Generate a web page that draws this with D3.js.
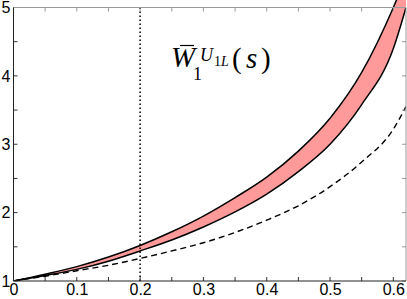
<!DOCTYPE html>
<html>
<head>
<meta charset="utf-8">
<script src="https://cdn.jsdelivr.net/npm/d3@7"></script>
<style>
  body { margin: 0; background: #fff; }
  svg { display: block; }
</style>
</head>
<body>
<div id="chart"></div>
<script>
// data
const xs = [0, 0.05, 0.1, 0.15, 0.2, 0.25, 0.3, 0.35, 0.4, 0.45, 0.5, 0.55, 0.6, 0.62];
const upperVals = [1.00, 1.10, 1.21, 1.35, 1.52, 1.72, 1.95, 2.22, 2.52, 2.90, 3.38, 4.05, 5.00, 5.45];
const lowerVals = [1.00, 1.08, 1.17, 1.29, 1.44, 1.60, 1.79, 2.01, 2.27, 2.60, 3.00, 3.58, 4.40, 5.00];
const dashedVals = [1.00, 1.07, 1.15, 1.23, 1.33, 1.44, 1.56, 1.71, 1.89, 2.10, 2.38, 2.74, 3.22, 3.55];
const markerX = 0.2;
const xTicks = [0, 0.1, 0.2, 0.3, 0.4, 0.5, 0.6];
const yTicks = [1, 2, 3, 4, 5];

const W = 407, H = 299;
const pLeft = 13.5, pRight = 406, pTop = 7.5, pBottom = 281;

const svg = d3.select("#chart").append("svg")
    .attr("width", W)
    .attr("height", H);

const x = d3.scaleLinear().domain([0, 0.62]).range([pLeft, pRight]);
const y = d3.scaleLinear().domain([1, 5]).range([pBottom, pTop]);

const band = xs.map((d, i) => ({ x: d, lo: lowerVals[i], hi: upperVals[i] }));

// pink area between the two solid curves
const area = d3.area()
    .x(d => x(d.x))
    .y0(d => y(d.lo))
    .y1(d => y(d.hi))
    .curve(d3.curveMonotoneX);

svg.append("clipPath").attr("id", "clip")
    .append("rect").attr("x", pLeft).attr("y", 0).attr("width", pRight - pLeft).attr("height", pBottom);

const plot = svg.append("g").attr("clip-path", "url(#clip)");

plot.append("path")
    .datum(band)
    .attr("fill", "#ff9a9a")
    .attr("d", area);

const line = d3.line()
    .x(d => x(d[0]))
    .y(d => y(d[1]))
    .curve(d3.curveMonotoneX);

[upperVals, lowerVals].forEach(vals => {
    plot.append("path")
        .datum(xs.map((d, i) => [d, vals[i]]))
        .attr("fill", "none")
        .attr("stroke", "#000")
        .attr("stroke-width", 1.5)
        .attr("d", line);
});

plot.append("path")
    .datum(xs.map((d, i) => [d, dashedVals[i]]))
    .attr("fill", "none")
    .attr("stroke", "#000")
    .attr("stroke-width", 1.4)
    .attr("stroke-dasharray", "6,4")
    .attr("d", line);

// dotted vertical marker
svg.append("line")
    .attr("x1", x(markerX)).attr("x2", x(markerX))
    .attr("y1", y(1)).attr("y2", y(5))
    .attr("stroke", "#000")
    .attr("stroke-width", 1.5)
    .attr("stroke-dasharray", "1.5,2.5");

// axes (ticks inward, MATLAB style)
const minorX = d3.range(0, 0.62, 0.05);
const minorY = d3.range(1, 5.01, 0.5);

const axB = svg.append("g").attr("transform", `translate(0,${pBottom})`)
    .call(d3.axisBottom(x).tickValues(xTicks).tickSize(0).tickPadding(3)
        .tickFormat(d => d === 0 ? "0" : d3.format(".1f")(d)));
axB.select(".domain").remove();
axB.selectAll("text")
    .attr("font-family", "Liberation Sans, Arial, sans-serif")
    .attr("font-size", 16)
    .attr("fill", "#000");

// y tick labels
svg.append("g").selectAll("text")
    .data(yTicks)
    .join("text")
    .attr("x", 10.5)
    .attr("y", d => y(d))
    .attr("dy", "0.36em")
    .attr("text-anchor", "end")
    .attr("font-family", "Liberation Sans, Arial, sans-serif")
    .attr("font-size", 16)
    .attr("fill", "#000")
    .text(d => d);

// tick marks on all four sides
const tickG = svg.append("g").attr("stroke", "#333").attr("stroke-width", 1);
minorX.forEach(v => {
    const len = 4;
    tickG.append("line").attr("x1", x(v)).attr("x2", x(v)).attr("y1", pBottom).attr("y2", pBottom - len);
    tickG.append("line").attr("x1", x(v)).attr("x2", x(v)).attr("y1", pTop).attr("y2", pTop + len).attr("stroke", "#999");
});
minorY.forEach(v => {
    const len = 4;
    tickG.append("line").attr("x1", pLeft).attr("x2", pLeft + len).attr("y1", y(v)).attr("y2", y(v));
    tickG.append("line").attr("x1", pRight).attr("x2", pRight - len).attr("y1", y(v)).attr("y2", y(v)).attr("stroke", "#999");
});

// frame
svg.append("line").attr("x1", pLeft).attr("x2", pRight).attr("y1", pTop).attr("y2", pTop).attr("stroke", "#999");
svg.append("line").attr("x1", pRight).attr("x2", pRight).attr("y1", pTop).attr("y2", pBottom).attr("stroke", "#999");
svg.append("line").attr("x1", pLeft).attr("x2", pRight).attr("y1", pBottom).attr("y2", pBottom).attr("stroke", "#222");
svg.append("line").attr("x1", pLeft).attr("x2", pLeft).attr("y1", pTop).attr("y2", pBottom).attr("stroke", "#222");

// label  W̄_1^{U_{1L}}(s)
const lab = svg.append("g").attr("font-family", "Liberation Serif, Times New Roman, serif").attr("fill", "#000");
lab.append("text").attr("x", 171).attr("y", 67).attr("font-size", 29).attr("font-style", "italic").text("W");
lab.append("line").attr("x1", 180).attr("x2", 194).attr("y1", 45.5).attr("y2", 45.5).attr("stroke", "#000").attr("stroke-width", 1.2);
lab.append("text").attr("x", 193).attr("y", 80).attr("font-size", 18).text("1");
lab.append("text").attr("x", 200).attr("y", 61).attr("font-size", 18).attr("font-style", "italic").text("U");
lab.append("text").attr("x", 214).attr("y", 66).attr("font-size", 14).text("1");
lab.append("text").attr("x", 221).attr("y", 66).attr("font-size", 14).attr("font-style", "italic").text("L");
lab.append("text").attr("x", 232).attr("y", 68).attr("font-size", 29).text("(");
lab.append("text").attr("x", 246).attr("y", 68).attr("font-size", 29).attr("font-style", "italic").text("s");
lab.append("text").attr("x", 261).attr("y", 68).attr("font-size", 29).text(")");
</script>
</body>
</html>
